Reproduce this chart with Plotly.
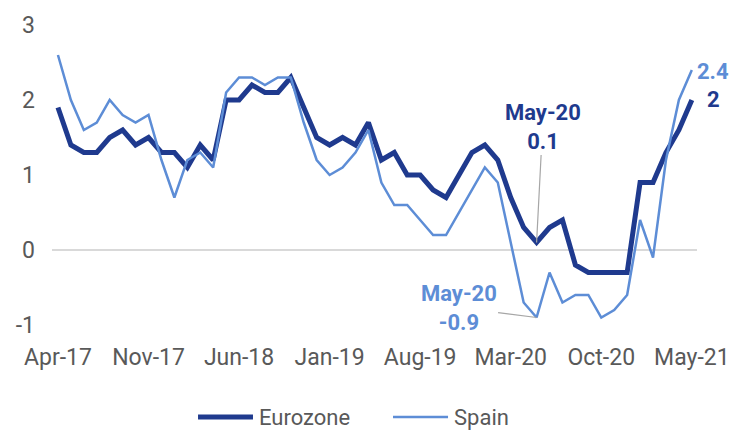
import plotly.graph_objects as go

months = ["Apr-17", "May-17", "Jun-17", "Jul-17", "Aug-17", "Sep-17", "Oct-17", "Nov-17", "Dec-17",
          "Jan-18", "Feb-18", "Mar-18", "Apr-18", "May-18", "Jun-18", "Jul-18", "Aug-18", "Sep-18",
          "Oct-18", "Nov-18", "Dec-18", "Jan-19", "Feb-19", "Mar-19", "Apr-19", "May-19", "Jun-19",
          "Jul-19", "Aug-19", "Sep-19", "Oct-19", "Nov-19", "Dec-19", "Jan-20", "Feb-20", "Mar-20",
          "Apr-20", "May-20", "Jun-20", "Jul-20", "Aug-20", "Sep-20", "Oct-20", "Nov-20", "Dec-20",
          "Jan-21", "Feb-21", "Mar-21", "Apr-21", "May-21"]

eurozone = [1.9, 1.4, 1.3, 1.3, 1.5, 1.6, 1.4, 1.5, 1.3,
            1.3, 1.1, 1.4, 1.2, 2.0, 2.0, 2.2, 2.1, 2.1,
            2.3, 1.9, 1.5, 1.4, 1.5, 1.4, 1.7, 1.2, 1.3,
            1.0, 1.0, 0.8, 0.7, 1.0, 1.3, 1.4, 1.2, 0.7,
            0.3, 0.1, 0.3, 0.4, -0.2, -0.3, -0.3, -0.3, -0.3,
            0.9, 0.9, 1.3, 1.6, 2.0]

spain = [2.6, 2.0, 1.6, 1.7, 2.0, 1.8, 1.7, 1.8, 1.2,
         0.7, 1.2, 1.3, 1.1, 2.1, 2.3, 2.3, 2.2, 2.3,
         2.3, 1.7, 1.2, 1.0, 1.1, 1.3, 1.6, 0.9, 0.6,
         0.6, 0.4, 0.2, 0.2, 0.5, 0.8, 1.1, 0.9, 0.1,
         -0.7, -0.9, -0.3, -0.7, -0.6, -0.6, -0.9, -0.8, -0.6,
         0.4, -0.1, 1.2, 2.0, 2.4]

tick_labels = ["Apr-17", "Nov-17", "Jun-18", "Jan-19", "Aug-19", "Mar-20", "Oct-20", "May-21"]
y_ticks = [-1, 0, 1, 2, 3]

DARK = "#1f3a8e"
LIGHT = "#5d8dd6"
GREY_TXT = "#595959"

x = list(range(len(months)))
tick_pos = [months.index(t) for t in tick_labels]

fig = go.Figure()
fig.add_trace(go.Scatter(x=x, y=eurozone, mode="lines", name="Eurozone",
                         line=dict(color=DARK, width=5), showlegend=False))
fig.add_trace(go.Scatter(x=x, y=spain, mode="lines", name="Spain",
                         line=dict(color=LIGHT, width=2.5), showlegend=False))

i_may20 = months.index("May-20")
i_last = len(months) - 1

# May-20 annotations
fig.add_annotation(x=i_may20, y=eurozone[i_may20], xref="x", yref="y",
                   text=f"<b>May-20</b><br><b>{eurozone[i_may20]}</b>",
                   showarrow=True, arrowhead=0, arrowwidth=1.2, arrowcolor="#a6a6a6",
                   ax=6, ay=-116, font=dict(family="Roboto", size=22, color=DARK),
                   align="center")
fig.add_annotation(x=i_may20, y=spain[i_may20], xref="x", yref="y",
                   text=f"<b>May-20</b><br><b>{spain[i_may20]}</b>",
                   showarrow=True, arrowhead=0, arrowwidth=1.2, arrowcolor="#a6a6a6",
                   ax=-78, ay=-10, font=dict(family="Roboto", size=22, color=LIGHT),
                   align="center")
# end labels
fig.add_annotation(x=i_last, y=spain[i_last], xref="x", yref="y",
                   text=f"<b>{spain[i_last]}</b>", showarrow=False, xshift=21, yshift=-1,
                   font=dict(family="Roboto", size=22, color=LIGHT))
fig.add_annotation(x=i_last, y=eurozone[i_last], xref="x", yref="y",
                   text=f"<b>{eurozone[i_last]:g}</b>", showarrow=False, xshift=22, yshift=1,
                   font=dict(family="Roboto", size=22, color=DARK))

# manual legend
legend_y = -0.307
legend_items = [("Eurozone", DARK, 5, 0.2264, 0.3116), ("Spain", LIGHT, 2.5, 0.5287, 0.614)]
for name, col, w, x0, x1 in legend_items:
    fig.add_shape(type="line", xref="paper", yref="paper", x0=x0, x1=x1,
                  y0=legend_y, y1=legend_y, line=dict(color=col, width=w))
    fig.add_annotation(xref="paper", yref="paper", x=x1 + 0.006, y=legend_y, text=name,
                       showarrow=False, xanchor="left", yanchor="middle",
                       font=dict(family="Roboto", size=22, color=GREY_TXT))

fig.update_layout(
    width=737, height=430,
    margin=dict(l=44, r=48, t=17, b=113, autoexpand=False),
    paper_bgcolor="white", plot_bgcolor="white",
    font=dict(family="Roboto", size=22, color=GREY_TXT),
    showlegend=False,
)
fig.update_xaxes(range=[-0.46, 49.4], tickvals=tick_pos, ticktext=tick_labels,
                 showgrid=False, zeroline=False, showline=False, ticks="",
                 automargin=False, ticklabelstandoff=16,
                 tickfont=dict(family="Roboto", size=23, color=GREY_TXT))
fig.update_yaxes(range=[-1, 3], tickvals=y_ticks, ticktext=[str(v) for v in y_ticks],
                 showgrid=False, zeroline=True, zerolinecolor="#d9d9d9", zerolinewidth=1.5,
                 showline=False, ticks="", ticklabelstandoff=16, automargin=False,
                 tickfont=dict(family="Roboto", size=23, color=GREY_TXT))

fig.write_html("out.html")
